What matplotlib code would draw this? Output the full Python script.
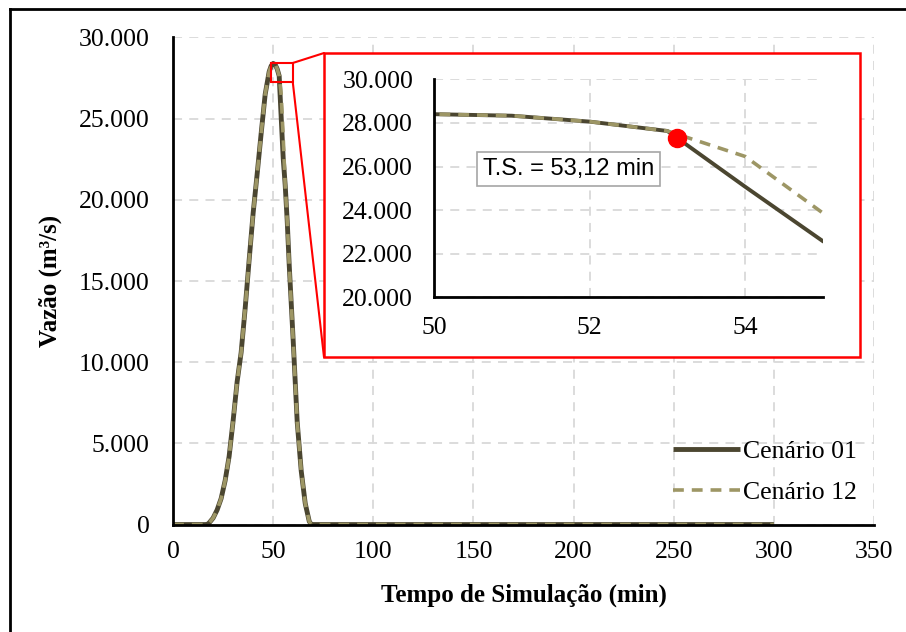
import numpy as np
import matplotlib
matplotlib.use("Agg")
import matplotlib.pyplot as plt
from matplotlib.patches import Rectangle, ConnectionPatch
from matplotlib.lines import Line2D
from matplotlib.ticker import FuncFormatter, MultipleLocator

# Hidrogramas (tempo em min, vazão em m³/s)
tempo = [0, 15, 17, 18, 20, 22, 24, 26, 28, 30, 32, 34, 36, 38, 40, 42, 44, 46, 48, 49,
         50, 51, 52, 53, 54, 55, 56, 57, 58, 60, 62, 64, 66, 68, 69, 70, 300]
cenario_01 = [0, 0, 0, 100, 400, 900, 1600, 2700, 4200, 6400, 8800, 10600, 13300, 16300,
              19200, 21600, 24100, 26500, 27900, 28250, 28400, 28330, 28060, 27630, 25070,
              22570, 20900, 18700, 16000, 11300, 6300, 3300, 1300, 200, 0, 0, 0]
cenario_12 = [0, 0, 0, 100, 400, 900, 1600, 2700, 4200, 6400, 8800, 10600, 13300, 16300,
              19200, 21600, 24100, 26500, 27900, 28250, 28400, 28330, 28060, 27630, 26460,
              23860, 20900, 18700, 16000, 11300, 6300, 3300, 1300, 200, 0, 0, 0]
ts = 53.12  # tempo de separação

cor_01 = "#4b4630"
cor_12 = "#9d9665"
cor_grade = "#d9d9d9"

plt.rcParams["font.family"] = ["Liberation Serif", "DejaVu Serif"]


def milhar(v, pos):
    if v == 0:
        return "0"
    return f"{v:,.0f}".replace(",", ".")


fig = plt.figure(figsize=(9.06, 6.32), dpi=100)
ax = fig.add_axes([0.191, 0.170, 0.7737, 0.7707])

ax.plot(tempo, cenario_01, color=cor_01, lw=3.5, label="Cenário 01", solid_capstyle="butt")
ax.plot(tempo, cenario_12, color=cor_12, lw=2.6, ls=(0, (3, 2.2)), label="Cenário 12")

ax.set_xlim(0, 350)
ax.set_ylim(0, 30000)
ax.xaxis.set_major_locator(MultipleLocator(50))
ax.yaxis.set_major_locator(MultipleLocator(5000))
ax.yaxis.set_major_formatter(FuncFormatter(milhar))
ax.grid(True, color=cor_grade, ls=(0, (5, 4)), lw=1.3)
ax.set_axisbelow(True)
for s in ["top", "right"]:
    ax.spines[s].set_visible(False)
for s in ["left", "bottom"]:
    ax.spines[s].set_linewidth(2)
ax.tick_params(axis="both", length=0, labelsize=18.5)
ax.tick_params(axis="y", pad=17)
ax.tick_params(axis="x", pad=12)
ax.set_xlabel("Tempo de Simulação (min)", fontsize=18, fontweight="bold", labelpad=15)
ax.set_ylabel("Vazão (m³/s)", fontsize=18, fontweight="bold", labelpad=12)

ax.legend(loc="lower right", bbox_to_anchor=(0.99, 0.022), frameon=False, fontsize=18.5,
          handlelength=2.6, handletextpad=0.1, labelspacing=0.7, borderaxespad=0)

# destaque do pico
ax.add_patch(Rectangle((48.9, 27230), 10.9, 1200, fill=False, edgecolor="red", lw=1.5, zorder=5))

# quadro do detalhe
caixa = Rectangle((0.3576, 0.4351), 0.5916, 0.4810, transform=fig.transFigure,
                  facecolor="white", edgecolor="red", lw=1.8, zorder=3)
fig.patches.append(caixa)
for xa, ya, yb in [(59.8, 28430, 0.9161), (59.8, 27230, 0.4351)]:
    con = ConnectionPatch(xyA=(xa, ya), coordsA=ax.transData, xyB=(0.3576, yb),
                          coordsB=fig.transFigure, color="red", lw=1.5, zorder=3)
    fig.add_artist(con)

axin = fig.add_axes([0.479, 0.5296, 0.4294, 0.3449])
axin.set_zorder(4)
axin.plot(tempo, cenario_01, color=cor_01, lw=2.8)
axin.plot(tempo, cenario_12, color=cor_12, lw=2.6, ls=(0, (3, 2.2)))
axin.plot([ts], [np.interp(ts, tempo, cenario_01)], "o", color="red", ms=13, zorder=6)
axin.set_xlim(50, 55)
axin.set_ylim(20000, 30000)
axin.xaxis.set_major_locator(MultipleLocator(2))
axin.yaxis.set_major_locator(MultipleLocator(2000))
axin.yaxis.set_major_formatter(FuncFormatter(milhar))
axin.grid(True, color=cor_grade, ls=(0, (5, 4)), lw=1.3)
axin.set_axisbelow(True)
for s in ["top", "right"]:
    axin.spines[s].set_visible(False)
for s in ["left", "bottom"]:
    axin.spines[s].set_linewidth(2)
axin.tick_params(axis="both", length=0, labelsize=18.5)
axin.tick_params(axis="y", pad=15)
axin.tick_params(axis="x", pad=14)
axin.text(51.73, 25900, "T.S. = 53,12 min", family=["Liberation Sans", "DejaVu Sans"],
          fontsize=17, ha="center", va="center",
          bbox=dict(boxstyle="square,pad=0.25", facecolor="white", edgecolor="#a6a6a6", lw=1.2))

# moldura externa
fig.add_artist(Line2D([10 / 906, 10 / 906], [0, 1 - 9 / 632], color="black", lw=2))
fig.add_artist(Line2D([10 / 906, 1], [1 - 9 / 632, 1 - 9 / 632], color="black", lw=2))

fig.savefig("out.png", dpi=100)
